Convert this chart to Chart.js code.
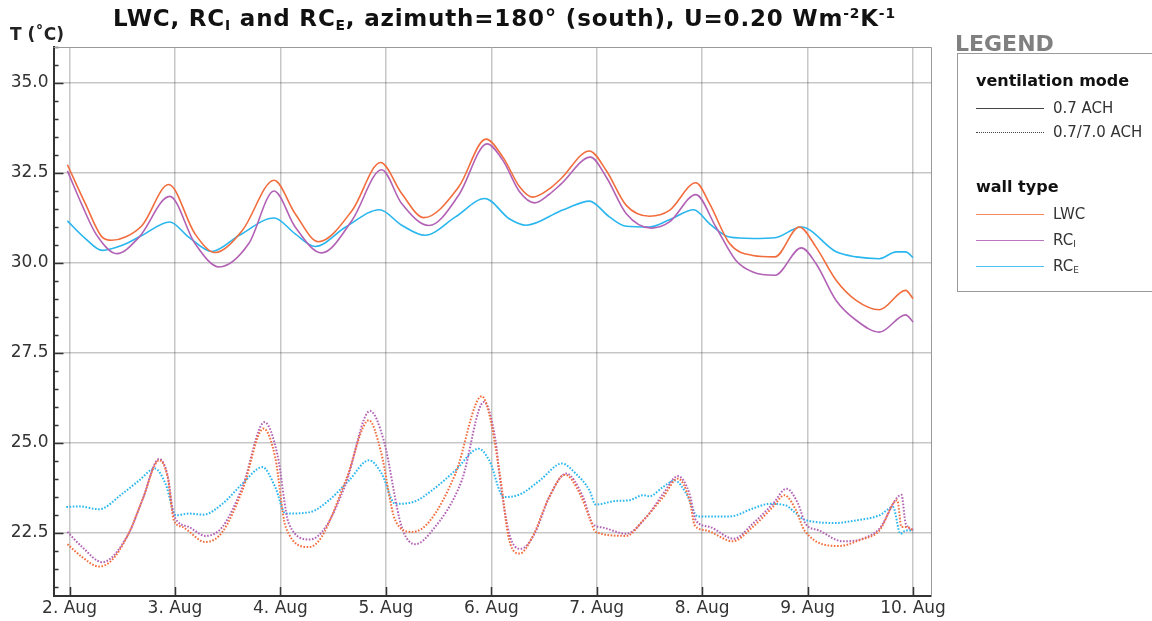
<!DOCTYPE html>
<html>
<head>
<meta charset="utf-8">
<script src="https://cdn.jsdelivr.net/npm/chart.js@4"></script>
<style>
  body { margin: 0; background: #fff; font-family: "DejaVu Sans", sans-serif; }
  #wrap { position: relative; width: 1152px; height: 621px; overflow: hidden; }
  #title { position: absolute; left: 113px; top: 5px; font-size: 23px; letter-spacing: 0.8px; font-weight: bold; color: #111; white-space: nowrap; }
  #title sub, #legend sub { font-size: 60%; vertical-align: -0.25em; }
  #title sup { font-size: 60%; vertical-align: 0.6em; }
  #ylabel { position: absolute; left: 10px; top: 24px; font-size: 17px; font-weight: bold; color: #222; }
  #legendHead { position: absolute; left: 955px; top: 31px; font-size: 22px; font-weight: bold; color: #808080; }
  #legend { position: absolute; left: 957px; top: 53px; width: 220px; height: 237px; border: 1px solid #9a9a9a; }
  .lh { position: absolute; left: 18px; font-size: 16px; font-weight: bold; color: #111; }
  .row { position: absolute; left: 18px; font-size: 15px; color: #333; height: 20px; line-height: 20px; }
  .row span.s { display: inline-block; width: 68px; margin-right: 9px; vertical-align: middle; border-top: 1.5px solid #444; }
  .row span.d { border-top: 1.5px dotted #444; }
</style>
</head>
<body>
<div id="wrap">
  <canvas id="chart" width="1152" height="621"></canvas>
  <div id="title">LWC, RC<sub>I</sub> and RC<sub>E</sub>, azimuth=180° (south), U=0.20 Wm<sup>-2</sup>K<sup>-1</sup></div>
  <div id="ylabel">T (˚C)</div>
  <div id="legendHead">LEGEND</div>
  <div id="legend">
    <div class="lh" style="top:17px">ventilation mode</div>
    <div class="row" style="top:44px"><span class="s"></span>0.7 ACH</div>
    <div class="row" style="top:68px"><span class="s d"></span>0.7/7.0 ACH</div>
    <div class="lh" style="top:123px">wall type</div>
    <div class="row" style="top:150px"><span class="s" style="border-color:#f5895c"></span>LWC</div>
    <div class="row" style="top:176px"><span class="s" style="border-color:#bb76be"></span>RC<sub>I</sub></div>
    <div class="row" style="top:202px"><span class="s" style="border-color:#4cc2f0"></span>RC<sub>E</sub></div>
  </div>
</div>
<script>
// days (x = day of August) and temperatures in °C
const dayTicks = [2, 3, 4, 5, 6, 7, 8, 9, 10];
const tempTicks = [22.5, 25.0, 27.5, 30.0, 32.5, 35.0];

// ventilation 0.7 ACH
const lwcSolid = [[1.98,32.73],[2.15,31.65],[2.31,30.72],[2.40,30.63],[2.53,30.72],[2.69,31.05],[2.94,32.18],[3.19,30.81],[3.38,30.29],[3.64,30.91],[3.94,32.30],[4.14,31.37],[4.36,30.59],[4.68,31.46],[4.95,32.79],[5.15,31.93],[5.36,31.26],[5.69,32.11],[5.95,33.44],[6.11,32.94],[6.27,32.11],[6.39,31.83],[6.55,32.06],[6.66,32.34],[6.93,33.11],[7.09,32.57],[7.28,31.60],[7.50,31.30],[7.69,31.46],[7.94,32.23],[8.07,31.65],[8.26,30.54],[8.48,30.21],[8.69,30.17],[8.92,31.0],[9.08,30.44],[9.27,29.52],[9.46,28.96],[9.68,28.70],[9.93,29.24],[10.0,29.01]];
const rciSolid = [[1.98,32.56],[2.12,31.6],[2.25,30.81],[2.45,30.26],[2.66,30.72],[2.95,31.85],[3.19,30.54],[3.42,29.89],[3.70,30.54],[3.94,32.0],[4.14,31.0],[4.39,30.28],[4.68,31.19],[4.96,32.59],[5.15,31.65],[5.41,31.04],[5.69,31.88],[5.96,33.31],[6.11,32.85],[6.27,31.97],[6.41,31.67],[6.55,31.91],[6.66,32.19],[6.94,32.94],[7.09,32.39],[7.28,31.37],[7.52,30.97],[7.69,31.14],[7.94,31.90],[8.13,31.0],[8.32,30.07],[8.48,29.75],[8.69,29.66],[8.94,30.42],[9.08,29.98],[9.27,28.96],[9.46,28.41],[9.68,28.08],[9.93,28.56],[10.0,28.36]];
const rceSolid = [[1.98,31.17],[2.15,30.68],[2.31,30.35],[2.50,30.49],[2.69,30.77],[2.95,31.14],[3.13,30.72],[3.35,30.32],[3.61,30.77],[3.94,31.25],[4.14,30.81],[4.33,30.46],[4.62,31.0],[4.94,31.48],[5.15,31.05],[5.37,30.77],[5.66,31.28],[5.94,31.79],[6.17,31.23],[6.33,31.05],[6.65,31.44],[6.71,31.51],[6.93,31.72],[7.12,31.28],[7.28,31.02],[7.50,31.0],[7.69,31.20],[7.92,31.48],[8.07,31.09],[8.26,30.72],[8.48,30.68],[8.69,30.70],[8.94,31.0],[9.27,30.31],[9.46,30.17],[9.68,30.12],[9.84,30.31],[9.93,30.31],[10.0,30.15]];

// ventilation 0.7/7.0 ACH
const lwcDotted = [[1.98,22.19],[2.12,21.83],[2.28,21.57],[2.40,21.74],[2.56,22.48],[2.69,23.41],[2.85,24.52],[2.93,24.06],[2.99,22.85],[3.07,22.67],[3.29,22.25],[3.45,22.53],[3.64,23.69],[3.84,25.40],[3.95,24.61],[4.05,22.67],[4.27,22.11],[4.39,22.39],[4.62,23.96],[4.84,25.63],[4.95,24.80],[5.09,22.85],[5.25,22.53],[5.41,22.81],[5.66,24.15],[5.91,26.30],[5.98,25.81],[6.08,24.15],[6.17,22.30],[6.27,21.93],[6.39,22.39],[6.55,23.50],[6.70,24.12],[6.84,23.59],[6.93,22.94],[6.99,22.53],[7.28,22.42],[7.44,22.85],[7.63,23.50],[7.77,24.01],[7.88,23.41],[7.93,22.71],[8.04,22.57],[8.29,22.27],[8.48,22.67],[8.67,23.22],[8.78,23.55],[8.89,23.13],[8.97,22.57],[9.30,22.14],[9.49,22.30],[9.68,22.57],[9.85,23.41],[9.89,22.67],[9.94,22.67],[10.0,22.57]];
const rciDotted = [[1.98,22.53],[2.12,22.11],[2.31,21.69],[2.56,22.48],[2.69,23.41],[2.85,24.56],[2.93,24.1],[2.99,22.99],[3.13,22.67],[3.29,22.42],[3.45,22.67],[3.64,23.78],[3.85,25.58],[3.97,24.70],[4.08,22.76],[4.28,22.32],[4.43,22.67],[4.62,23.87],[4.85,25.89],[4.98,25.07],[5.15,22.67],[5.28,22.19],[5.44,22.57],[5.72,23.96],[5.93,26.14],[6.04,25.07],[6.08,24.06],[6.17,22.48],[6.28,22.06],[6.41,22.48],[6.55,23.50],[6.71,24.15],[6.87,23.50],[6.96,22.76],[7.06,22.65],[7.28,22.48],[7.47,22.94],[7.63,23.59],[7.77,24.08],[7.88,23.59],[7.94,22.85],[8.07,22.67],[8.30,22.34],[8.48,22.76],[8.67,23.31],[8.80,23.73],[8.91,23.31],[8.98,22.76],[9.11,22.57],[9.33,22.27],[9.52,22.34],[9.68,22.62],[9.89,23.56],[9.93,22.76],[10.0,22.59]];
const rceDotted = [[1.97,23.22],[2.09,23.24],[2.28,23.16],[2.50,23.59],[2.66,23.96],[2.81,24.29],[2.91,23.87],[3.01,22.99],[3.13,23.04],[3.27,23.01],[3.45,23.31],[3.64,23.87],[3.83,24.33],[3.95,23.78],[4.05,23.04],[4.28,23.08],[4.46,23.41],[4.65,23.96],[4.84,24.52],[4.96,24.15],[5.09,23.31],[5.26,23.36],[5.44,23.69],[5.66,24.24],[5.88,24.84],[5.98,24.52],[6.12,23.50],[6.27,23.57],[6.46,23.96],[6.67,24.43],[6.80,24.15],[6.93,23.69],[6.99,23.29],[7.18,23.39],[7.31,23.41],[7.44,23.55],[7.50,23.52],[7.63,23.78],[7.74,23.96],[7.85,23.59],[7.96,22.96],[8.26,22.96],[8.48,23.18],[8.64,23.31],[8.79,23.27],[8.89,23.04],[8.97,22.87],[9.27,22.78],[9.46,22.85],[9.68,22.99],[9.81,23.22],[9.88,22.48],[9.93,22.57],[10.0,22.57]];

const LWC = '#f26d3d', RCI = '#b262b5', RCE = '#29b6ee';

function line(pts, color, dotted) {
    return {
        data: pts.map(p => ({x: p[0], y: p[1]})),
        borderColor: color,
        borderWidth: dotted ? 2 : 1.6,
        borderDash: dotted ? [1.6, 1.6] : [],
        pointRadius: 0,
        cubicInterpolationMode: 'monotone'
    };
}

// small ticks pointing into the plot, like the original
const innerTicks = {
    id: 'innerTicks',
    afterDraw(chart) {
        const {ctx, chartArea: a, scales: {x, y}} = chart;
        ctx.save();
        ctx.strokeStyle = '#333';
        ctx.lineWidth = 1.5;
        ctx.beginPath();
        for (let v = Math.ceil(y.min * 2) / 2; v <= y.max; v += 0.5) {
            const p = Math.round(y.getPixelForValue(v)) + 0.5;
            const len = tempTicks.some(t => Math.abs(t - v) < 1e-6) ? 10 : 5;
            ctx.moveTo(a.left, p);
            ctx.lineTo(a.left + len, p);
        }
        dayTicks.forEach(d => {
            const p = Math.round(x.getPixelForValue(d)) + 0.5;
            ctx.moveTo(p, a.bottom);
            ctx.lineTo(p, a.bottom - 9);
        });
        ctx.stroke();
        // thin frame on top and right
        ctx.strokeStyle = '#999';
        ctx.lineWidth = 1;
        ctx.beginPath();
        ctx.moveTo(a.left, a.top + 0.5);
        ctx.lineTo(a.right + 0.5, a.top + 0.5);
        ctx.lineTo(a.right + 0.5, a.bottom);
        ctx.stroke();
        ctx.restore();
    }
};

const tickFont = {family: 'DejaVu Sans', size: 17};

new Chart(document.getElementById('chart'), {
    type: 'line',
    data: {
        datasets: [
            line(lwcSolid, LWC, false),
            line(rciSolid, RCI, false),
            line(rceSolid, RCE, false),
            line(lwcDotted, LWC, true),
            line(rciDotted, RCI, true),
            line(rceDotted, RCE, true)
        ]
    },
    options: {
        responsive: false,
        animation: false,
        layout: {padding: {top: 47, right: 221, left: 0, bottom: 0}},
        plugins: {legend: {display: false}, tooltip: {enabled: false}},
        scales: {
            x: {
                type: 'linear',
                min: 1.848,
                max: 10.17,
                afterBuildTicks: s => { s.ticks = dayTicks.map(v => ({value: v})); },
                afterFit: s => { s.height = 25; },
                ticks: {font: tickFont, color: '#333', padding: 2, maxRotation: 0,
                        callback: v => v + '. Aug'},
                grid: {color: 'rgba(0,0,0,0.22)', lineWidth: 1.5, drawTicks: false},
                border: {color: '#333', width: 2}
            },
            y: {
                min: 20.75,
                max: 36,
                afterBuildTicks: s => { s.ticks = tempTicks.map(v => ({value: v})); },
                afterFit: s => { s.width = 53.5; },
                ticks: {font: tickFont, color: '#333', padding: 5,
                        callback: v => v.toFixed(1)},
                grid: {color: 'rgba(0,0,0,0.22)', lineWidth: 1.5, drawTicks: false},
                border: {color: '#333', width: 2}
            }
        }
    },
    plugins: [innerTicks]
});
</script>
</body>
</html>
